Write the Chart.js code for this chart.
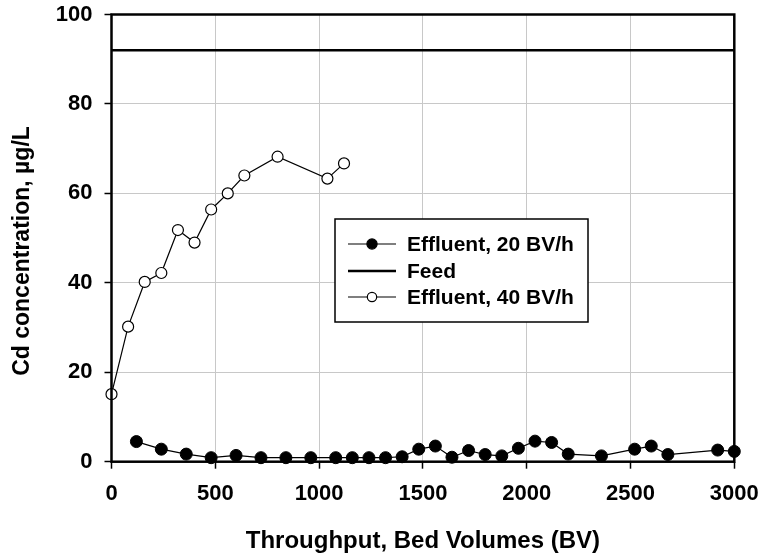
<!DOCTYPE html>
<html>
<head>
<meta charset="utf-8">
<script src="https://cdn.jsdelivr.net/npm/chart.js@4.4.0/dist/chart.umd.min.js"></script>
<style>
  body { margin: 0; background: #fff; }
  #wrap { width: 763px; height: 557px; }
</style>
</head>
<body>
<div id="wrap"><canvas id="cdChart" width="763" height="557"></canvas></div>
<script>
// Throughput (BV) and Cd concentration (ug/L)
const bv20 = [120, 240, 360, 480, 600, 720, 840, 960, 1080, 1160, 1240, 1320, 1400, 1480, 1560,
  1640, 1720, 1800, 1880, 1960, 2040, 2120, 2200, 2360, 2520, 2600, 2680, 2920, 3000];
const cd20 = [4.5, 2.8, 1.7, 0.9, 1.4, 0.9, 0.9, 0.9, 0.9, 0.9, 0.9, 0.9, 1.1, 2.8, 3.5,
  1.0, 2.5, 1.6, 1.3, 3.0, 4.6, 4.3, 1.7, 1.3, 2.8, 3.5, 1.6, 2.6, 2.3];

const bv40 = [0, 80, 160, 240, 320, 400, 480, 560, 640, 800, 1040, 1120];
const cd40 = [15.1, 30.2, 40.2, 42.2, 51.8, 49.0, 56.4, 60.0, 64.0, 68.2, 63.3, 66.7];

const feedBv = [0, 3000];
const feedCd = [92, 92];

const xTicks = [0, 500, 1000, 1500, 2000, 2500, 3000];
const yTicks = [0, 20, 40, 60, 80, 100];

const FONT = "'Liberation Sans', Arial, sans-serif";

function pts(xs, ys) {
  return xs.map((x, i) => ({ x: x, y: ys[i] }));
}

// frame, axis titles and the boxed legend inside the plot
const decorations = {
  id: 'decorations',
  afterDatasetsDraw(chart) {
    const { ctx, chartArea: a } = chart;
    ctx.save();
    ctx.strokeStyle = '#000';
    ctx.lineWidth = 2.5;
    ctx.strokeRect(a.left, a.top, a.right - a.left, a.bottom - a.top);
    ctx.restore();
  },
  afterDraw(chart) {
    const { ctx, chartArea: a } = chart;
    ctx.save();
    ctx.fillStyle = '#000';
    ctx.font = 'bold 24px ' + FONT;
    ctx.textAlign = 'center';
    ctx.textBaseline = 'middle';
    ctx.fillText('Throughput, Bed Volumes (BV)', (a.left + a.right) / 2, 541);
    ctx.font = 'bold 23px ' + FONT;
    ctx.translate(23, 251);
    ctx.rotate(-Math.PI / 2);
    ctx.fillText('Cd concentration, µg/L', 0, 0);
    ctx.restore();

    // legend
    const bx = 335, by = 219, bw = 253, bh = 103;
    ctx.save();
    ctx.fillStyle = '#fff';
    ctx.fillRect(bx, by, bw, bh);
    ctx.strokeStyle = '#000';
    ctx.lineWidth = 1.5;
    ctx.strokeRect(bx, by, bw, bh);
    const rows = [244, 271, 297];
    chart.data.datasets.forEach((ds, i) => {
      const y = rows[i];
      ctx.beginPath();
      ctx.strokeStyle = '#000';
      ctx.lineWidth = ds.borderWidth;
      ctx.moveTo(348, y);
      ctx.lineTo(396, y);
      ctx.stroke();
      if (ds.pointRadius > 0) {
        ctx.beginPath();
        ctx.arc(372, y, ds.pointRadius * 0.85, 0, Math.PI * 2);
        ctx.fillStyle = ds.pointBackgroundColor;
        ctx.fill();
        ctx.lineWidth = 1.2;
        ctx.stroke();
      }
      ctx.fillStyle = '#000';
      ctx.font = 'bold 21px ' + FONT;
      ctx.textAlign = 'left';
      ctx.textBaseline = 'middle';
      ctx.fillText(ds.label, 407, y + 1);
    });
    ctx.restore();
  }
};

new Chart(document.getElementById('cdChart'), {
  type: 'scatter',
  data: {
    datasets: [
      {
        label: 'Effluent, 20 BV/h',
        data: pts(bv20, cd20),
        showLine: true,
        borderColor: '#000',
        borderWidth: 1.2,
        pointRadius: 6,
        pointBackgroundColor: '#000',
        pointBorderColor: '#000',
        pointBorderWidth: 1,
        order: 2
      },
      {
        label: 'Feed',
        data: pts(feedBv, feedCd),
        showLine: true,
        borderColor: '#000',
        borderWidth: 2.5,
        pointRadius: 0,
        order: 3
      },
      {
        label: 'Effluent, 40 BV/h',
        data: pts(bv40, cd40),
        showLine: true,
        borderColor: '#000',
        borderWidth: 1.2,
        pointRadius: 5.5,
        pointBackgroundColor: '#fff',
        pointBorderColor: '#000',
        pointBorderWidth: 1.2,
        order: 1
      }
    ]
  },
  options: {
    responsive: false,
    animation: false,
    clip: false,
    layout: { padding: { left: 0, top: 14.5, right: 28.7, bottom: 0 } },
    plugins: { legend: { display: false }, tooltip: { enabled: false } },
    scales: {
      x: {
        type: 'linear',
        min: 0,
        max: 3000,
        afterBuildTicks: (s) => { s.ticks = xTicks.map(v => ({ value: v })); },
        afterFit: (s) => { s.height = 95.3; s.paddingLeft = 0; s.paddingRight = 0; },
        grid: { color: '#c8c8c8', lineWidth: 1, tickColor: '#000', tickWidth: 1.5, tickLength: 7 },
        border: { display: false },
        ticks: {
          color: '#000', padding: 12, maxRotation: 0,
          font: { family: FONT, size: 22, weight: 'bold' },
          callback: (v) => String(v)
        }
      },
      y: {
        type: 'linear',
        min: 0,
        max: 100,
        afterBuildTicks: (s) => { s.ticks = yTicks.map(v => ({ value: v })); },
        afterFit: (s) => { s.width = 111.5; s.paddingTop = 0; s.paddingBottom = 0; },
        grid: { color: '#c8c8c8', lineWidth: 1, tickColor: '#000', tickWidth: 1.5, tickLength: 7 },
        border: { display: false },
        ticks: {
          color: '#000', padding: 12,
          font: { family: FONT, size: 22, weight: 'bold' },
          callback: (v) => String(v)
        }
      }
    }
  },
  plugins: [decorations]
});
</script>
</body>
</html>
